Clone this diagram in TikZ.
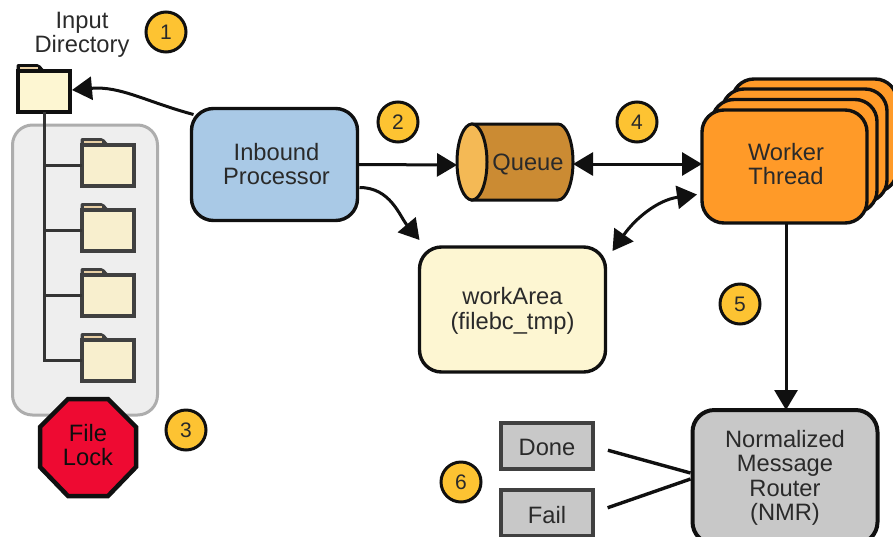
\documentclass[tikz,border=0pt]{standalone}
\usepackage{fontspec}
\setmainfont{Liberation Sans}
\usetikzlibrary{arrows.meta,calc}
\definecolor{ink}{HTML}{101010}
\definecolor{txt}{HTML}{2A2A2A}
\definecolor{lightyellow}{HTML}{FDF6D2}
\definecolor{panelfill}{HTML}{EEEEEE}
\definecolor{panelline}{HTML}{ADADAD}
\definecolor{subfolder}{HTML}{F8EFCE}
\definecolor{blue1}{HTML}{A9C9E6}
\definecolor{orange1}{HTML}{FF9A28}
\definecolor{queuebody}{HTML}{CB8B33}
\definecolor{queueend}{HTML}{F4B955}
\definecolor{stopred}{HTML}{EE0A32}
\definecolor{badge}{HTML}{FDC332}
\definecolor{grey1}{HTML}{C8C8C8}
\tikzset{
  lbl/.style={font=\fontsize{23.7}{24.5}\selectfont,text=txt,align=center},
  box/.style={draw=ink,line width=3.4pt,rounded corners=22pt,outer sep=0pt,inner sep=0pt,lbl},
  numbadge/.style={circle,draw=ink,fill=badge,line width=3pt,minimum size=40pt,inner sep=0pt,
    font=\fontsize{21}{21}\selectfont,text=txt},
  smallbox/.style={draw=ink!80,line width=4pt,fill=grey1,minimum width=92pt,minimum height=46pt,inner sep=0pt,outer sep=0pt},
  conn/.style={draw=ink,line width=3pt,-{Triangle[length=20pt,width=23pt]}},
  biconn/.style={draw=ink,line width=3pt,{Triangle[length=20pt,width=23pt]}-{Triangle[length=20pt,width=23pt]}},
  plain/.style={draw=ink,line width=3.4pt},
  treeline/.style={draw=ink!85,line width=3pt},
  folderbody/.style={draw=#1,line width=4pt,minimum width=52pt,minimum height=41pt,inner sep=0pt,outer sep=0pt},
}
\newcommand{\folderat}[5]{% name, x, y, fill, line
  \fill[#5,rounded corners=2pt] (#2-27.5,#3-10) -- (#2-27.5,#3-27) -- (#2-5,#3-27) -- (#2+1,#3-20) -- (#2+1,#3-10) -- cycle;
  \fill[#4!70!brown] (#2-24,#3-24.5) rectangle (#2-6,#3-22);
  \node[folderbody=#5,fill=#4] (#1) at (#2,#3) {};
}
\begin{document}
\begin{tikzpicture}[x=1pt,y=-1pt]
\useasboundingbox (0,0) rectangle (893,536);
\clip (0,0) rectangle (893,536);

% grey panel
\node[draw=panelline,fill=panelfill,line width=3pt,rounded corners=20pt,minimum width=145pt,minimum height=290pt,inner sep=0pt] (panel) at (85,270) {};

% input directory
\node[lbl] (inputlabel) at (82,35) {Input\\Directory};
\folderat{inputdir}{44}{91}{lightyellow}{ink}

% subfolders
\folderat{subA}{108}{165}{subfolder}{ink!80}
\folderat{subB}{108}{230}{subfolder}{ink!80}
\folderat{subC}{108}{295}{subfolder}{ink!80}
\folderat{subD}{108}{360}{subfolder}{ink!80}
\coordinate (trunkend) at (inputdir.south |- subD.west);
\draw[treeline] (inputdir.south) -- (trunkend) -- (subD.west);
\draw[treeline] (inputdir.south |- subA.west) -- (subA.west);
\draw[treeline] (inputdir.south |- subB.west) -- (subB.west);
\draw[treeline] (inputdir.south |- subC.west) -- (subC.west);

% file lock
\filldraw[draw=ink,fill=stopred,line width=4.5pt,line join=miter]
  (68,399) -- (108,399) -- (136,427) -- (136,467) -- (108,496) -- (68,496) -- (40,467) -- (40,427) -- cycle;
\node[lbl,text=ink!90!black] (lock) at (88,445) {File\\Lock};

% inbound
\node[box,fill=blue1,minimum width=166pt,minimum height=112pt] (inbound) at (274.5,164.5) {};
\node[lbl] (inboundlabel) at (276.5,164) {Inbound\\Processor};

% queue
\filldraw[draw=ink,fill=queuebody,line width=3pt]
  (472,124) -- (558,124) arc[start angle=-90,end angle=90,x radius=15,y radius=38] -- (472,200) -- cycle;
\filldraw[draw=ink,fill=queueend,line width=3pt] (472,162) ellipse[x radius=15,y radius=38];
\node[minimum width=116pt,minimum height=76pt,inner sep=0pt,outer sep=0pt] (queue) at (515,162) {};
\node[lbl] (queuelabel) at (528,164) {Queue};

% workers
\foreach \i/\dx/\dy in {w4/30/-31,w3/20/-21,w2/10/-10.5}{
  \node[box,fill=orange1,minimum width=165pt,minimum height=113pt] (\i) at (784.5+\dx,166.5+\dy) {};
}
\node[box,fill=orange1,minimum width=165pt,minimum height=113pt] (worker) at (784.5,166.5) {};
\node[lbl] (workerlabel) at (786,164) {Worker\\Thread};

% work area
\node[box,fill=lightyellow,minimum width=186pt,minimum height=125pt] (workarea) at (512.5,309.5) {};
\node[lbl] (worklabel) at (512.5,311) {workArea\\(filebc\_tmp)};

% NMR
\node[box,line width=4pt,fill=grey1,minimum width=185pt,minimum height=134pt] (nmr) at (785,477) {};
\node[lbl] (nmrlabel) at (785,478) {Normalized\\Message\\Router\\(NMR)};

% done / fail
\node[smallbox] (done) at (546.5,446) {};
\node[lbl] (donelabel) at (547,447) {Done};
\node[smallbox] (fail) at (546.5,513) {};
\node[lbl] (faillabel) at (547,515.5) {Fail};

% connectors
\coordinate (qw) at (queue.west |- 0,165);
\coordinate (qe) at (queue.east |- 0,164);
\coordinate (wq) at (worker.west |- 0,164);
\draw[conn] ($(inbound.north west)+(2,6)$) to[out=165,in=5] ($(inputdir.east)+(2,-1)$);
\draw[conn] (inbound.east) -- (qw);
\draw[conn] ($(inbound.east)+(2,23)$) to[out=0,in=130] ($(workarea.north west)+(0,-7)$);
\draw[biconn] (qe) -- (wq);
\draw[biconn] ($(workarea.north east)+(7,4)$) to[out=55,in=188] ($(worker.west)+(-5,28)$);
\coordinate (wb) at ($(worker.south)+(1.5,0)$);
\draw[conn] (wb) -- (wb |- nmr.north);
\coordinate (nmrtop) at ($(nmr.west)+(-2,-4)$);
\coordinate (nmrbot) at ($(nmr.west)+(-2,2)$);
\draw[plain,shorten <=16pt] (done.east) -- (nmrtop);
\draw[plain,shorten <=16pt] (fail.east) -- (nmrbot);

% badges
\node[numbadge] (b1) at (166,32) {1};
\node[numbadge] (b2) at (398,122) {2};
\node[numbadge] (b3) at (186,430) {3};
\node[numbadge] (b4) at (637,122) {4};
\node[numbadge] (b5) at (740,304) {5};
\node[numbadge] (b6) at (461,482) {6};
\end{tikzpicture}
\end{document}
